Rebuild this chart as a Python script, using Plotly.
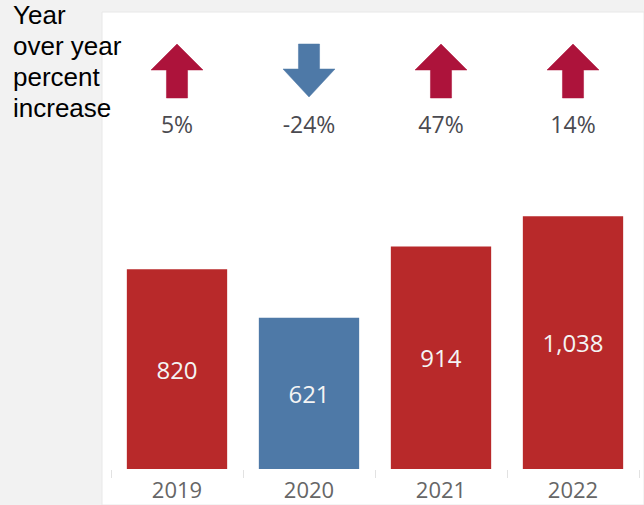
import plotly.graph_objects as go

years = ["2019", "2020", "2021", "2022"]
counts = [820, 621, 914, 1038]
pct_change = [5, -24, 47, 14]

W, H = 644, 505
RED_BAR = "#b8292a"
BLUE_BAR = "#4e79a7"
RED_ARROW = "#ad133b"
BLUE_ARROW = "#4e79a7"
NUM_FONT = "Open Sans"

def px(x):
    return x / W

def py(y):
    return (H - y) / H

bar_colors = [RED_BAR if p >= 0 else BLUE_BAR for p in pct_change]

fig = go.Figure()
fig.add_trace(go.Bar(
    x=years, y=counts,
    marker=dict(color=bar_colors, line=dict(width=0)),
    text=[f"{v:,}" for v in counts],
    textposition="inside", insidetextanchor="middle", textangle=0,
    textfont=dict(color="#f4f4f4", size=24, family=NUM_FONT),
    hoverinfo="skip", showlegend=False,
))

# arrows (built from category index and sign)
HW, SW = 0.197, 0.08
for i, p in enumerate(pct_change):
    if p >= 0:
        xs = [i, i + HW, i + SW, i + SW, i - SW, i - SW, i - HW, i]
        ys = [61, 35, 35, 7, 7, 35, 35, 61]
        col = RED_ARROW
    else:
        xs = [i, i + HW, i + SW, i + SW, i - SW, i - SW, i - HW, i]
        ys = [8, 36, 36, 61, 61, 36, 36, 8]
        col = BLUE_ARROW
    fig.add_trace(go.Scatter(
        x=xs, y=ys, xaxis="x2", yaxis="y2", mode="lines", fill="toself",
        fillcolor=col, line=dict(color=col, width=0.5),
        hoverinfo="skip", showlegend=False,
    ))

fig.add_trace(go.Scatter(
    x=list(range(len(years))), y=[-22] * len(years), xaxis="x2", yaxis="y2",
    mode="text", text=[f"{p}%" for p in pct_change],
    textfont=dict(color="#4a4a50", size=23, family=NUM_FONT),
    hoverinfo="skip", showlegend=False,
))

fig.add_shape(type="rect", xref="paper", yref="paper",
              x0=px(102), x1=1, y0=0, y1=py(12),
              fillcolor="white", line=dict(color="#e8e8e8", width=1), layer="below")

for txt, yc in [("Year", 15), ("over year", 46), ("percent", 77), ("increase", 108)]:
    fig.add_annotation(text=txt, xref="paper", yref="paper", x=px(11), y=py(yc),
                       xanchor="left", yanchor="middle", showarrow=False,
                       font=dict(family="Liberation Sans, Arial", size=26, color="#000000"))

fig.update_layout(
    width=W, height=H,
    margin=dict(l=0, r=0, t=0, b=0, autoexpand=False),
    paper_bgcolor="#f2f2f2", plot_bgcolor="rgba(0,0,0,0)",
    bargap=0.24,
    xaxis=dict(domain=[px(111), px(639)], type="category", range=[-0.5, 3.5],
               tickson="boundaries", ticks="outside", ticklen=8, tickcolor="#e2e2e2",
               showline=False, showgrid=False, zeroline=False, automargin=False,
               tickfont=dict(family=NUM_FONT, size=22, color="#666666"),
               ticklabelstandoff=6, fixedrange=True),
    yaxis=dict(domain=[py(469), py(469 - 1300 * 0.2435)], range=[0, 1300],
               visible=False, fixedrange=True, automargin=False),
    xaxis2=dict(domain=[px(111), px(639)], range=[-0.5, 3.5], anchor="y2",
                visible=False, fixedrange=True),
    yaxis2=dict(domain=[py(135), py(40)], range=[-30, 65], anchor="x2",
                visible=False, fixedrange=True),
)

fig.write_html("out.html",
               config={"displayModeBar": False},
               post_script="document.body.style.margin='0';document.body.style.background='#f2f2f2';")
